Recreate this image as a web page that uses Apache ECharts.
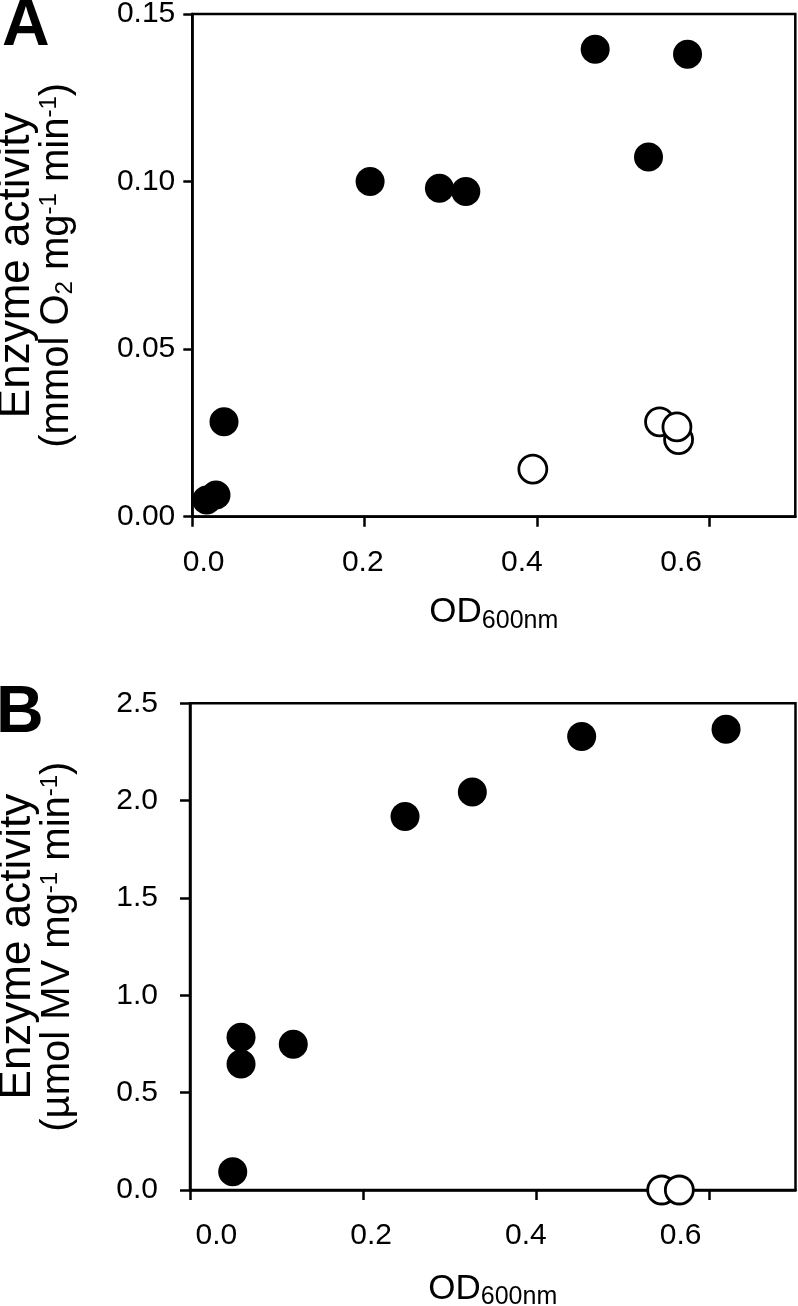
<!DOCTYPE html>
<html><head><meta charset="utf-8">
<script src="https://cdn.jsdelivr.net/npm/echarts@6/dist/echarts.min.js"></script>
<style>html,body{margin:0;padding:0;background:#fff}#c{width:798px;height:1306px}</style>
</head><body><div id="c"></div>
<script>
// ---- data ----
const xTicks = [0, 0.2, 0.4, 0.6];
// Panel A: O2 consumption activity
const aFilledX = [0.0167, 0.0275, 0.0368, 0.2064, 0.2869, 0.3175, 0.4677, 0.5296, 0.5749];
const aFilledY = [0.0050, 0.0065, 0.0283, 0.1000, 0.0980, 0.0970, 0.1395, 0.1073, 0.1380];
const aOpenX = [0.3953, 0.5424, 0.5645, 0.5626];
const aOpenY = [0.0142, 0.0283, 0.0230, 0.0268];
// Panel B: MV activity
const bFilledX = [0.0494, 0.0590, 0.0590, 0.1194, 0.2486, 0.3264, 0.4528, 0.6197];
const bFilledY = [0.094, 0.785, 0.647, 0.749, 1.918, 2.044, 2.329, 2.367];
const bOpenX = [0.5453, 0.5657];
const bOpenY = [0.000, 0.000];

const FONT = 'Liberation Sans, Arial, sans-serif';
const zip = (xs, ys) => xs.map((x, i) => [x, ys[i]]);

const axisLine = {show: true, onZero: false, lineStyle: {color: '#000', width: 2.5}};
const xName = {
  name: 'OD{sub|600nm}', nameLocation: 'middle', nameMoveOverlap: false,
  nameTextStyle: {fontFamily: FONT, fontSize: 35, lineHeight: 42, color: '#000',
    rich: {sub: {fontFamily: FONT, fontSize: 25, lineHeight: 21, verticalAlign: 'bottom', color: '#000'}}}
};
function yNameStyle() {
  return {fontFamily: FONT, fontSize: 40, lineHeight: 40, color: '#000',
    rich: {
      big: {fontFamily: FONT, fontSize: 44, lineHeight: 40, color: '#000'},
      sup: {fontFamily: FONT, fontSize: 24, lineHeight: 26, verticalAlign: 'top', color: '#000'},
      sub: {fontFamily: FONT, fontSize: 24, lineHeight: 28, verticalAlign: 'bottom', color: '#000'}
    }};
}
function mainX(gi, gap) {
  return Object.assign({
    gridIndex: gi, type: 'value', min: 0, max: 0.7, position: 'bottom',
    axisLine: axisLine,
    axisTick: {show: true, length: 10, customValues: xTicks, lineStyle: {color: '#000', width: 2.5}},
    axisLabel: {show: false}, splitLine: {show: false}, nameGap: gap
  }, xName);
}
function labelX(gi, mn, mx) {
  return {
    gridIndex: gi, type: 'value', min: mn, max: mx, position: 'bottom',
    axisLine: {show: false}, axisTick: {show: false}, splitLine: {show: false},
    axisLabel: {customValues: xTicks, fontFamily: FONT, fontSize: 30, margin: 31, color: '#000',
      formatter: v => v.toFixed(1)}
  };
}

const chart = echarts.init(document.getElementById('c'), null, {renderer: 'canvas'});
chart.setOption({
  animation: false,
  backgroundColor: '#fff',
  title: [
    {text: 'A', left: 2, top: -6, padding: 0, textStyle: {fontFamily: FONT, fontSize: 66, fontWeight: 'bold', color: '#000'}},
    {text: 'B', left: -4, top: 681, padding: 0, textStyle: {fontFamily: FONT, fontSize: 66, fontWeight: 'bold', color: '#000'}}
  ],
  grid: [
    {left: 192.3, top: 14, width: 603, height: 502.7, show: true, borderColor: '#000', borderWidth: 2.5,
     backgroundColor: 'transparent', containLabel: false, outerBoundsMode: 'none'},
    {left: 190, top: 703.3, width: 605.5, height: 486.7, show: true, borderColor: '#000', borderWidth: 2.5,
     backgroundColor: 'transparent', containLabel: false, outerBoundsMode: 'none'}
  ],
  xAxis: [
    mainX(0, 75),
    labelX(0, -0.0142, 0.7435),
    mainX(1, 78),
    labelX(1, -0.0341, 0.7485)
  ],
  yAxis: [
    {gridIndex: 0, type: 'value', min: 0, max: 0.15, interval: 0.05,
     axisLine: axisLine, axisTick: {show: true, length: 9, lineStyle: {color: '#000', width: 2.5}},
     axisLabel: {fontFamily: FONT, fontSize: 30, margin: 17, color: '#000', formatter: v => v.toFixed(2)},
     splitLine: {show: false},
     name: '{big|Enzyme activity}\n(mmol O{sub|2} mg{sup|-1} min{sup|-1})', nameLocation: 'middle', nameRotate: 90, nameGap: 115,
     nameMoveOverlap: false, nameTextStyle: yNameStyle()},
    {gridIndex: 1, type: 'value', min: 0, max: 2.5, interval: 0.5,
     axisLine: axisLine, axisTick: {show: true, length: 10, lineStyle: {color: '#000', width: 2.5}},
     axisLabel: {fontFamily: FONT, fontSize: 30, margin: 32, color: '#000', formatter: v => v.toFixed(1)},
     splitLine: {show: false},
     name: '{big|Enzyme activity}\n(µmol MV mg{sup|-1} min{sup|-1})', nameLocation: 'middle', nameRotate: 90, nameGap: 112,
     nameMoveOverlap: false, nameTextStyle: yNameStyle()}
  ],
  series: [
    {type: 'scatter', xAxisIndex: 0, yAxisIndex: 0, data: zip(aFilledX, aFilledY), symbol: 'circle', symbolSize: 29,
     itemStyle: {color: '#000', opacity: 1}, clip: false, silent: true},
    {type: 'scatter', xAxisIndex: 0, yAxisIndex: 0, data: zip(aOpenX, aOpenY), symbol: 'circle', symbolSize: 28,
     itemStyle: {color: '#fff', borderColor: '#000', borderWidth: 2.8, opacity: 1}, clip: false, silent: true},
    {type: 'scatter', xAxisIndex: 2, yAxisIndex: 1, data: zip(bFilledX, bFilledY), symbol: 'circle', symbolSize: 29,
     itemStyle: {color: '#000', opacity: 1}, clip: false, silent: true},
    {type: 'scatter', xAxisIndex: 2, yAxisIndex: 1, data: zip(bOpenX, bOpenY), symbol: 'circle', symbolSize: 28,
     itemStyle: {color: '#fff', borderColor: '#000', borderWidth: 2.8, opacity: 1}, clip: false, silent: true}
  ]
});
</script></body></html>
